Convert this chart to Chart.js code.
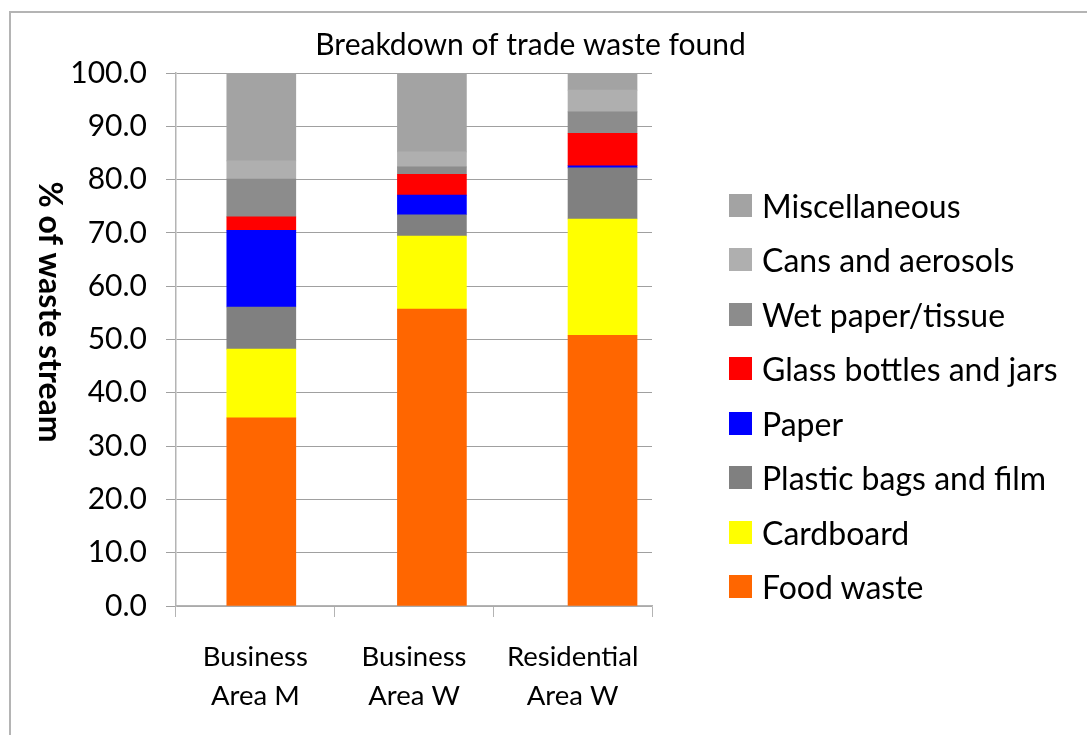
<!DOCTYPE html>
<html>
<head>
<meta charset="utf-8">
<script src="https://cdn.jsdelivr.net/npm/chart.js@4.4.1/dist/chart.umd.min.js"></script>
<style>
  html, body { margin: 0; padding: 0; background: #fff; overflow: hidden; }
  #wrap { position: relative; width: 1087px; height: 735px; }
  #frame { position: absolute; left: 9px; top: 11px; width: 1200px; height: 900px; border: 2px solid #b4b4b4; box-sizing: border-box; }
  canvas { position: absolute; left: 0; top: 0; }
  #legend { position: absolute; left: 729px; top: 178px; font-family: Lato, sans-serif; font-size: 32px; color: #000; }
  .item { height: 54.5px; display: flex; align-items: center; white-space: nowrap; }
  .swatch { width: 23px; height: 23px; margin-right: 10px; flex: none; }
</style>
</head>
<body>
<div id="wrap">
  <div id="frame"></div>
  <canvas id="chart" width="1087" height="735"></canvas>
  <div id="legend"></div>
</div>
<script>
const CATEGORIES = [['Business', 'Area M'], ['Business', 'Area W'], ['Residential', 'Area W']]

// bottom of the stack first
const SERIES_NAMES = [
  'Food waste',
  'Cardboard',
  'Plastic bags and film',
  'Paper',
  'Glass bottles and jars',
  'Wet paper/tissue',
  'Cans and aerosols',
  'Miscellaneous',
]

const FOOD_WASTE = [35.3, 55.7, 50.8]
const CARDBOARD = [12.9, 13.7, 21.8]
const PLASTIC_BAGS = [7.9, 4.0, 9.6]
const PAPER = [14.4, 3.7, 0.4]
const GLASS = [2.5, 3.9, 6.1]
const WET_PAPER = [7.1, 1.4, 4.0]
const CANS = [3.4, 2.8, 4.1]
const MISC = [16.5, 14.8, 3.2]

const SERIES_VALUES = [FOOD_WASTE, CARDBOARD, PLASTIC_BAGS, PAPER, GLASS, WET_PAPER, CANS, MISC]

const SERIES_COLORS = ['#ff6600', '#ffff00', '#808080', '#0000ff', '#ff0000', '#8c8c8c', '#afafaf', '#a3a3a3']

const Y_TICKS = [0, 10, 20, 30, 40, 50, 60, 70, 80, 90, 100]

const GRID = '#a0a0a0'
const AXIS = '#b4b4b4'

Chart.defaults.font.family = 'Lato, sans-serif'
Chart.defaults.color = '#000'

const yTitle = {
  id: 'yTitle',
  afterDraw(chart) {
    const { ctx } = chart
    ctx.save()
    ctx.translate(49, 312)
    ctx.rotate(Math.PI / 2)
    ctx.font = 'bold 32px Lato, sans-serif'
    ctx.fillStyle = '#000'
    ctx.textAlign = 'center'
    ctx.textBaseline = 'middle'
    ctx.fillText('% of waste stream', 0, 0)
    ctx.restore()
  },
}

new Chart(document.getElementById('chart'), {
  type: 'bar',
  data: {
    labels: CATEGORIES.map((_, index) => index),
    datasets: SERIES_NAMES.map((name, index) => ({
      label: name,
      data: SERIES_VALUES[index],
      backgroundColor: SERIES_COLORS[index],
      borderWidth: 0,
      barThickness: 69,
      xAxisID: 'xb',
      yAxisID: 'y',
    })),
  },
  plugins: [yTitle],
  options: {
    responsive: false,
    animation: false,
    layout: { padding: { left: 0, right: 26, top: 0, bottom: 0 } },
    plugins: {
      legend: { display: false },
      tooltip: { enabled: false },
      title: {
        display: true,
        text: 'Breakdown of trade waste found',
        font: { size: 30, weight: 'normal', lineHeight: 1.2 },
        color: '#000',
        padding: { top: 27, bottom: 10 },
      },
    },
    scales: {
      xb: {
        type: 'linear',
        display: false,
        stacked: true,
        offset: false,
        min: -0.5,
        max: 2.29,
      },
      x: {
        type: 'category',
        position: 'bottom',
        labels: CATEGORIES,
        offset: true,
        grid: { drawOnChartArea: false, drawTicks: true, tickLength: 11, color: AXIS },
        border: { color: AXIS, width: 1.5 },
        ticks: { font: { size: 27.5, lineHeight: 1.42 }, padding: 21, maxRotation: 0, autoSkip: false },
        afterFit: (scale) => { scale.height = 129 },
      },
      y: {
        position: 'left',
        stacked: true,
        min: 0,
        max: 100,
        afterBuildTicks: (scale) => { scale.ticks = Y_TICKS.map((value) => ({ value })) },
        ticks: { font: { size: 30 }, padding: 19, callback: (value) => Number(value).toFixed(1) },
        grid: { color: GRID, tickLength: 10 },
        border: { color: AXIS, width: 1.5 },
        afterFit: (scale) => { scale.width = 176 },
      },
      spacer: {
        type: 'linear',
        position: 'right',
        grid: { display: false },
        border: { display: false },
        ticks: { display: false },
        afterFit: (scale) => { scale.width = 409 },
      },
    },
  },
})

const legend = document.getElementById('legend')
for (let index = SERIES_NAMES.length - 1; index >= 0; index--) {
  const item = document.createElement('div')
  item.className = 'item'
  const swatch = document.createElement('span')
  swatch.className = 'swatch'
  swatch.style.background = SERIES_COLORS[index]
  const text = document.createElement('span')
  text.textContent = SERIES_NAMES[index]
  item.append(swatch, text)
  legend.append(item)
}
</script>
</body>
</html>
